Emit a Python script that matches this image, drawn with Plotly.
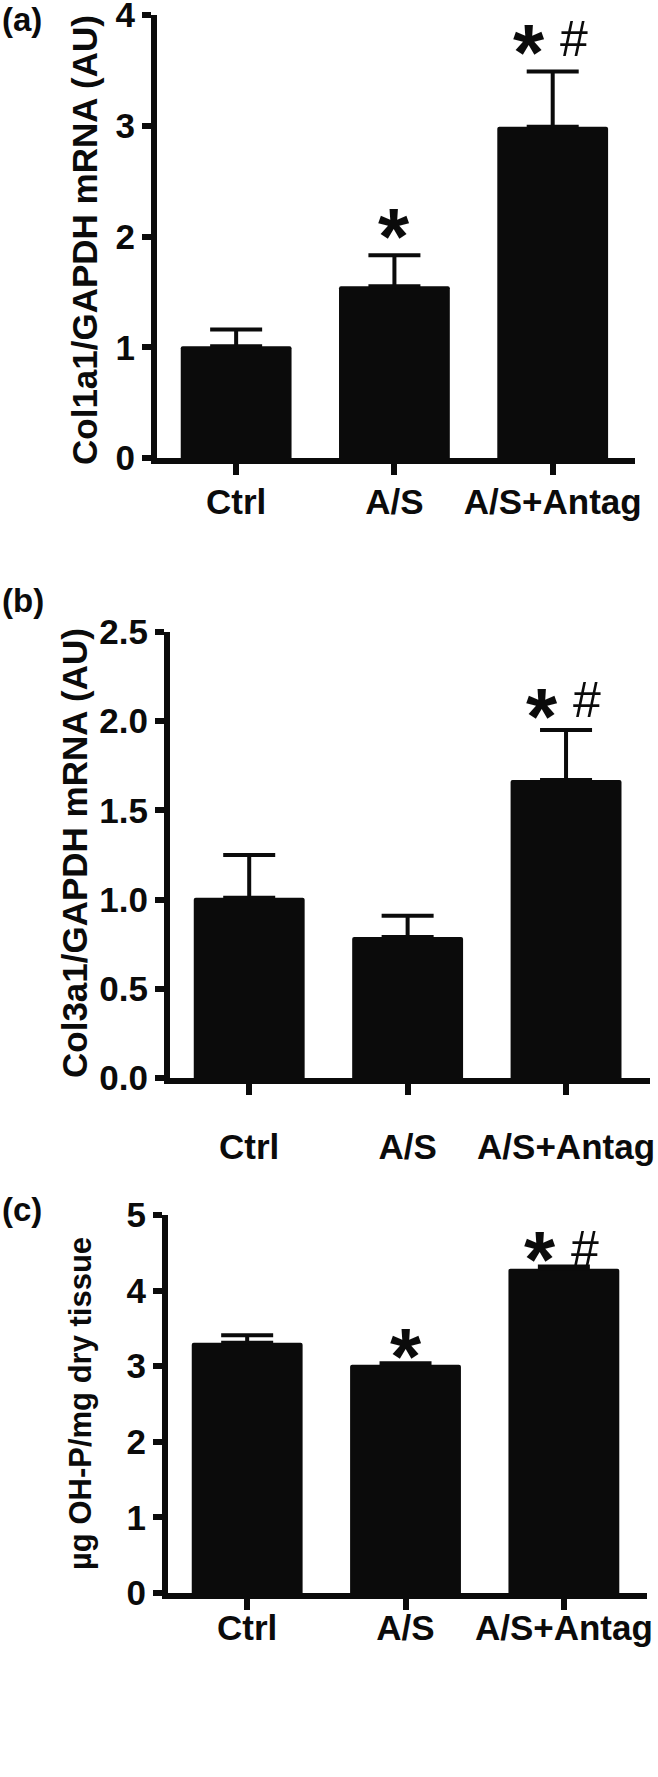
import plotly.graph_objects as go

# ---- data ----
categories = ["Ctrl", "A/S", "A/S+Antag"]

col1a1_mean = [1.01, 1.55, 2.99]
col1a1_sem = [0.15, 0.28, 0.50]
col1a1_sig = ["", "*", "*#"]

col3a1_mean = [1.01, 0.79, 1.67]
col3a1_sem = [0.24, 0.12, 0.28]
col3a1_sig = ["", "", "*#"]

ohp_mean = [3.31, 3.02, 4.29]
ohp_sem = [0.10, 0.02, 0.03]
ohp_sig = ["", "*", "*#"]

a_ticks = [0, 1, 2, 3, 4]
a_ticktext = ["0", "1", "2", "3", "4"]
b_ticks = [0.0, 0.5, 1.0, 1.5, 2.0, 2.5]
b_ticktext = ["0.0", "0.5", "1.0", "1.5", "2.0", "2.5"]
c_ticks = [0, 1, 2, 3, 4, 5]
c_ticktext = ["0", "1", "2", "3", "4", "5"]

W, H = 658, 1777
FONT = "Liberation Sans, Arial, Helvetica, sans-serif"
INK = "#0b0b0b"


def fx(px):
    return px / W


def fy(py):
    return 1 - py / H


panels = [
    dict(mean=col1a1_mean, sem=col1a1_sem, sig=col1a1_sig, ticks=a_ticks, ticktext=a_ticktext,
         yr=[0, 4], xdom=[157, 635], xr=[-0.5, 2.52], ydom=[458, 15],
         title="Col1a1/GAPDH mRNA (AU)", title_size=35, title_x=84, title_y=240,
         label="(a)", label_y=20, star_shift=19, hash_shift=32, standoff=-3),
    dict(mean=col3a1_mean, sem=col3a1_sem, sig=col3a1_sig, ticks=b_ticks, ticktext=b_ticktext,
         yr=[0, 2.5], xdom=[170, 650], xr=[-0.5, 2.53], ydom=[1078, 632],
         title="Col3a1/GAPDH mRNA (AU)", title_size=35, title_x=74, title_y=853,
         label="(b)", label_y=600, star_shift=14, hash_shift=30, standoff=22),
    dict(mean=ohp_mean, sem=ohp_sem, sig=ohp_sig, ticks=c_ticks, ticktext=c_ticktext,
         yr=[0, 5], xdom=[168, 647], xr=[-0.5, 2.525], ydom=[1593, 1215],
         title="µg OH-P/mg dry tissue", title_size=31, title_x=80, title_y=1404,
         label="(c)", label_y=1209, star_shift=7, hash_shift=17, standoff=-12),
]

fig = go.Figure()
annotations = []
layout = {}

for i, p in enumerate(panels, start=1):
    xa = "x" if i == 1 else f"x{i}"
    ya = "y" if i == 1 else f"y{i}"
    fig.add_trace(go.Bar(
        x=categories, y=p["mean"], xaxis=xa, yaxis=ya, width=0.70,
        marker=dict(color=INK, line=dict(width=0), cornerradius=2),
        error_y=dict(type="data", symmetric=False, array=p["sem"],
                     arrayminus=[0] * len(p["sem"]), color=INK, thickness=4, width=26),
        showlegend=False, hoverinfo="skip",
    ))
    xkey = "xaxis" if i == 1 else f"xaxis{i}"
    ykey = "yaxis" if i == 1 else f"yaxis{i}"
    layout[xkey] = dict(
        domain=[fx(p["xdom"][0]), fx(p["xdom"][1])], range=p["xr"], anchor=ya,
        type="category", showline=True, linewidth=6, linecolor=INK,
        ticks="outside", ticklen=11, tickwidth=6, tickcolor=INK,
        showgrid=False, zeroline=False, ticklabelstandoff=p["standoff"],
        automargin=False, ticklabeloverflow="allow",
        tickfont=dict(family=FONT, size=35, color=INK, weight="bold"),
    )
    layout[ykey] = dict(
        domain=[fy(p["ydom"][0]), fy(p["ydom"][1])], range=p["yr"], anchor=xa,
        showline=True, linewidth=6, linecolor=INK,
        ticks="outside", ticklen=9, tickwidth=6, tickcolor=INK,
        tickvals=p["ticks"], ticktext=p["ticktext"],
        showgrid=False, zeroline=False, automargin=False, ticklabeloverflow="allow",
        tickfont=dict(family=FONT, size=35, color=INK, weight="bold"),
    )
    # y-axis title
    annotations.append(dict(
        text=p["title"], xref="paper", yref="paper",
        x=fx(p["title_x"]), y=fy(p["title_y"]),
        textangle=-90, showarrow=False, xanchor="center", yanchor="middle",
        font=dict(family=FONT, size=p["title_size"], color=INK, weight="bold"),
    ))
    # panel label
    annotations.append(dict(
        text=p["label"], xref="paper", yref="paper", x=0, y=fy(p["label_y"]),
        showarrow=False, xanchor="left", yanchor="middle",
        font=dict(family=FONT, size=33, color=INK, weight="bold"),
    ))
    # significance markers
    for cat, m, s, sig in zip(categories, p["mean"], p["sem"], p["sig"]):
        top = m + s
        if "*" in sig:
            annotations.append(dict(
                text="*", xref=xa, yref=ya, x=cat, y=top,
                xshift=(-24 if "#" in sig else 0), yshift=p["star_shift"],
                showarrow=False, xanchor="center", yanchor="middle",
                font=dict(family=FONT, size=80, color=INK, weight="bold"),
            ))
        if "#" in sig:
            annotations.append(dict(
                text="#", xref=xa, yref=ya, x=cat, y=top,
                xshift=21, yshift=p["hash_shift"],
                showarrow=False, xanchor="center", yanchor="middle",
                font=dict(family=FONT, size=50, color=INK),
            ))

fig.update_layout(
    width=W, height=H, margin=dict(l=0, r=0, t=0, b=0, pad=0, autoexpand=False),
    paper_bgcolor="white", plot_bgcolor="white",
    annotations=annotations, bargap=0.3, **layout,
)

fig.write_html("out.html", config={"displayModeBar": False},
               post_script="document.body.style.margin='0px';")
